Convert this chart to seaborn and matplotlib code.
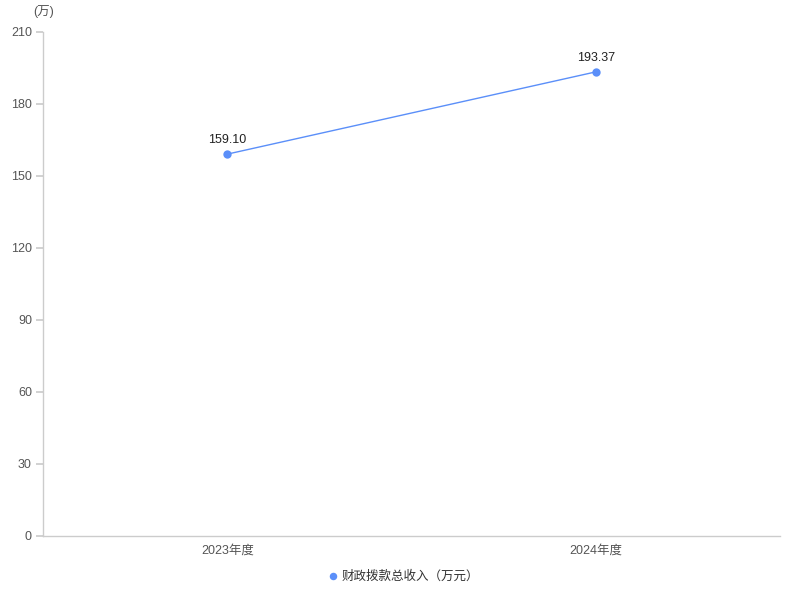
import matplotlib
matplotlib.use("Agg")
import matplotlib.pyplot as plt
import pandas as pd
import seaborn as sns

years = ["2023年度", "2024年度"]
income = [159.10, 193.37]
series_name = "财政拨款总收入（万元）"
y_ticks = [0, 30, 60, 90, 120, 150, 180, 210]

sns.set_theme(style="white")
plt.rcParams['font.family'] = ['Noto Sans CJK SC', 'DejaVu Sans']

df = pd.DataFrame({"year": years, "value": income})
color = "#5B8FF9"

fig = plt.figure(figsize=(8, 6), dpi=100)
ax = fig.add_axes([0.05375, 0.1067, 0.92125, 0.84])

sns.lineplot(data=df, x="year", y="value", ax=ax, color=color, linewidth=1,
             marker="o", markersize=6, markeredgewidth=0, label=series_name,
             sort=False)

for i, v in enumerate(income):
    ax.annotate(f"{v:.2f}", (i, v), xytext=(0, 6), textcoords="offset points",
                ha="center", va="bottom", fontsize=9, color="#222222",
                family=['Liberation Sans', 'DejaVu Sans'])

ax.set_xlim(-0.5, 1.5)
ax.set_ylim(0, 210)
ax.set_yticks(y_ticks)
ax.set_xlabel("")
ax.set_ylabel("")
for side in ["top", "right"]:
    ax.spines[side].set_visible(False)
for side in ["left", "bottom"]:
    ax.spines[side].set_color("#cccccc")
    ax.spines[side].set_linewidth(1)
ax.tick_params(axis="y", length=5, color="#cccccc", labelsize=9, labelcolor="#555555", pad=3, left=True)
ax.tick_params(axis="x", length=0, labelsize=9, labelcolor="#555555", pad=6)
for lab in ax.get_yticklabels() + ax.get_xticklabels():
    lab.set_family(['Liberation Sans', 'Noto Sans CJK SC'])

fig.text(0.054, 0.981, "(万)", ha="center", va="center", fontsize=9, color="#555555",
         family=['Liberation Sans', 'Noto Sans CJK SC'])

ax.legend(loc="upper center", bbox_to_anchor=(0.49, -0.045), frameon=False,
          fontsize=9, handlelength=0.6, handletextpad=0.4, markerscale=0.9,
          labelcolor="#333333")
leg = ax.get_legend()
for h in leg.get_lines():
    h.set_linestyle("none")

fig.savefig("out.png", dpi=100)
